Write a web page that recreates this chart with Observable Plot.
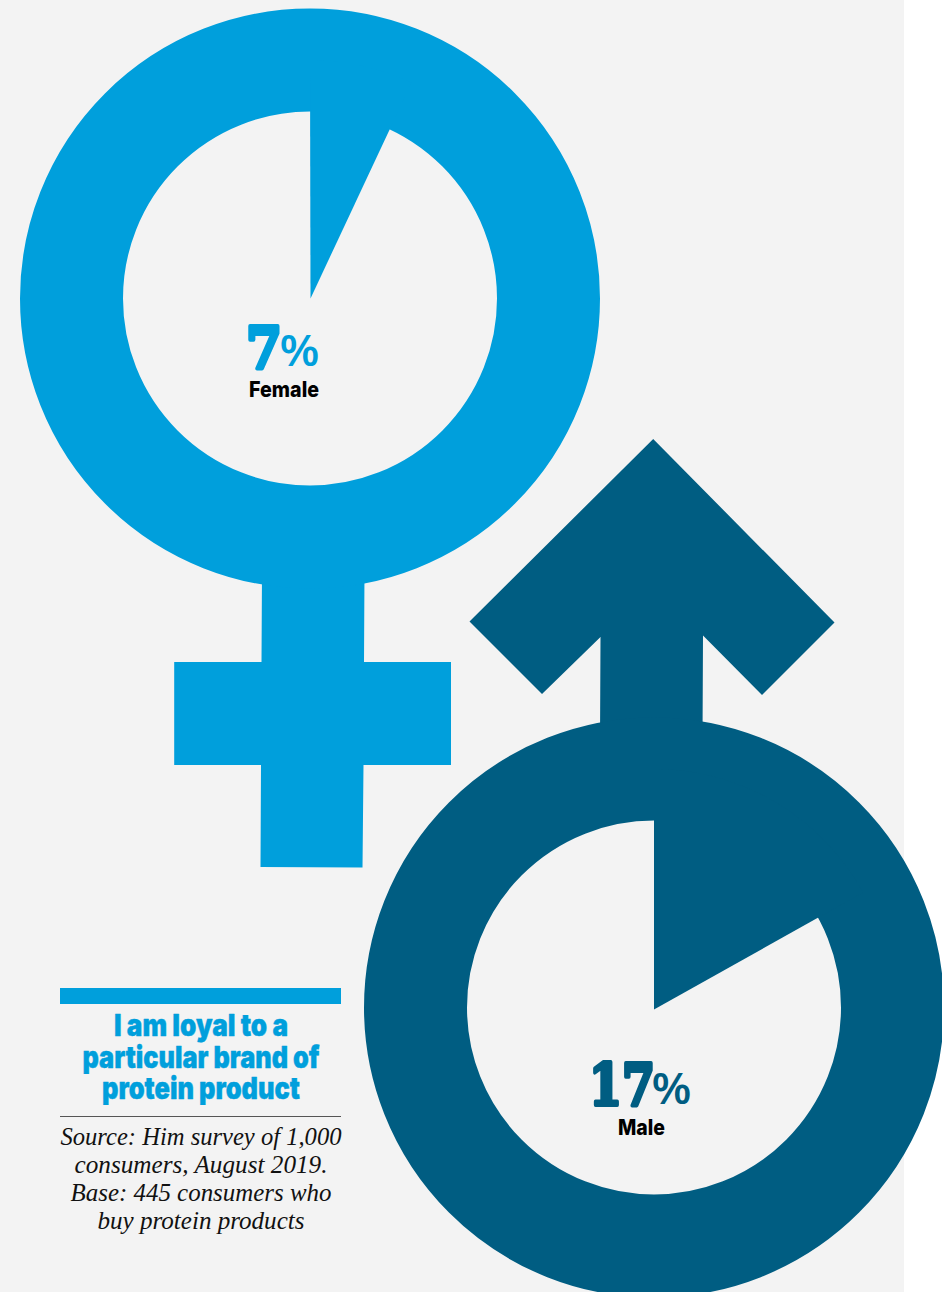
<!DOCTYPE html>
<html>
<head>
<meta charset="utf-8">
<script src="https://cdn.jsdelivr.net/npm/d3@7"></script>
<script src="https://cdn.jsdelivr.net/npm/@observablehq/plot@0.6"></script>
<style>
  html, body { margin: 0; padding: 0; background: #fff; }
  svg { display: block; }
</style>
</head>
<body>
<div id="chart"></div>
<script>
// Share of protein buyers who say they are loyal to one brand, by gender
const genders = ["Female", "Male"];
const loyalPercent = [7, 17];
const headlineLines = ["I am loyal to a", "particular brand of", "protein product"];
const sourceLines = [
  "Source: Him survey of 1,000",
  "consumers, August 2019.",
  "Base: 445 consumers who",
  "buy protein products"
];

const W = 942, H = 1292;
const PANEL = "#f3f3f3", LIGHT = "#009fdc", DARK = "#005d82";
const colors = [LIGHT, DARK];

// Ring centre and wedge apex of each symbol
const centers = [[309.5, 298], [653.5, 1007]];
const apexes = [[310, 298], [653.5, 1009]];
const RING_MID = 238.5, RING_WIDTH = 103;

// Label placement per symbol: value centre, percent centre, value and name baselines
const labelLayout = [
  { valueX: 263.5, percentX: 299, valueY: 367, percentY: 365, nameX: 283.5, nameY: 396 },
  { valueX: 621.5, percentX: 671, valueY: 1104, percentY: 1103, nameX: 641, nameY: 1134 }
];

const rows = genders.map((g, i) => ({
  gender: g, value: loyalPercent[i], color: colors[i],
  cx: centers[i][0], cy: centers[i][1], ax: apexes[i][0], ay: apexes[i][1],
  ...labelLayout[i]
}));

// Wedge rises from its apex, sweeping clockwise from twelve o'clock by the share
function wedge(r) {
  const sweep = (r.value / 100) * 2 * Math.PI;
  const pts = [[r.ax, r.ay]];
  for (let k = 0; k <= 60; k++) {
    const a = (sweep * k) / 60;
    pts.push([r.cx + RING_MID * Math.sin(a), r.cy - RING_MID * Math.cos(a)]);
  }
  pts.push([r.ax, r.ay]);
  return pts;
}

// Venus cross and Mars arrow outlines, in chart units
const venusOutline = [
  [261.5, 570], [364, 570], [363.5, 661.5], [450.5, 661.5], [450.5, 764.5], [363, 764.5], [362, 867],
  [260, 866.5], [260.5, 764.5], [173.7, 764.5], [173.7, 661.5], [261, 661.5], [261.5, 570]
];
const marsOutline = [
  [652.7, 438.5], [834, 622], [761.5, 694.5], [702.5, 635], [702, 740], [599.5, 740],
  [600, 636.5], [541.5, 693.5], [469, 621], [652.7, 438.5]
];

const polygon = (pts, fill) => Plot.line(pts, {
  x: (d) => d[0], y: (d) => d[1], fill, stroke: "none"
});

// Single line of text on a baseline, fitted to a given width
function fitted(data, widths, options) {
  return Plot.text(data, {
    lineAnchor: "bottom",
    ...options,
    render(index, scales, values, dims, context, next) {
      const g = next(index, scales, values, dims, context);
      d3.select(g).selectAll("text")
        .attr("textLength", (_, i) => widths[index[i]])
        .attr("lengthAdjust", "spacingAndGlyphs");
      return g;
    }
  });
}

const HEAVY = "Inter, 'Liberation Sans', sans-serif";
const SERIF = "'Liberation Serif', serif";
const SLAB = "'DejaVu Serif', serif";

const plot = Plot.plot({
  width: W, height: H,
  margin: 0,
  x: { domain: [0, W], range: [0, W], axis: null },
  y: { domain: [0, H], range: [0, H], axis: null },
  style: { background: "#fff" },
  marks: [
    Plot.rect([0], { x1: 0, x2: 904, y1: 0, y2: H, fill: PANEL }),

    polygon(venusOutline, LIGHT),
    Plot.dot([rows[0]], {
      x: "cx", y: "cy", r: RING_MID, fill: PANEL, stroke: "color", strokeWidth: RING_WIDTH
    }),
    polygon(wedge(rows[0]), LIGHT),

    polygon(marsOutline, DARK),
    Plot.dot([rows[1]], {
      x: "cx", y: "cy", r: RING_MID, fill: PANEL, stroke: "color", strokeWidth: RING_WIDTH
    }),
    polygon(wedge(rows[1]), DARK),

    // Values
    fitted(rows, [36, 66], {
      x: "valueX", y: "valueY",
      text: (d) => String(d.value), fill: "color", stroke: "color", strokeWidth: 4,
      fontFamily: SLAB, fontWeight: 700, fontSize: 57, textAnchor: "middle"
    }),
    fitted(rows, [40, 40], {
      x: "percentX", y: "percentY",
      text: () => "%", fill: "color",
      fontFamily: "'Open Sans', sans-serif", fontWeight: 600, fontSize: 43, textAnchor: "middle"
    }),
    fitted(rows, [70, 47], {
      x: "nameX", y: "nameY",
      text: "gender", fill: "#000",
      fontFamily: HEAVY, fontWeight: 800, fontSize: 22, textAnchor: "middle"
    }),

    // Headline block
    Plot.rect([0], { x1: 60, x2: 341, y1: 988, y2: 1004, fill: LIGHT }),
    fitted(headlineLines, [174, 237, 198], {
      x: 200.5, y: (_, i) => 1035.5 + i * 31.5, text: (d) => d, fill: LIGHT, stroke: LIGHT, strokeWidth: 0.4,
      fontFamily: HEAVY, fontWeight: 900, fontSize: 30, textAnchor: "middle"
    }),
    Plot.ruleY([1116], { x1: 60, x2: 341, stroke: "#555", strokeWidth: 1 }),
    fitted(sourceLines, [281, 253, 261, 207], {
      x: 200.5, y: (_, i) => 1144.5 + i * 28, text: (d) => d, fill: "#111",
      fontFamily: SERIF, fontStyle: "italic", fontSize: 25, textAnchor: "middle"
    })
  ]
});
document.getElementById("chart").append(plot);
</script>
</body>
</html>
